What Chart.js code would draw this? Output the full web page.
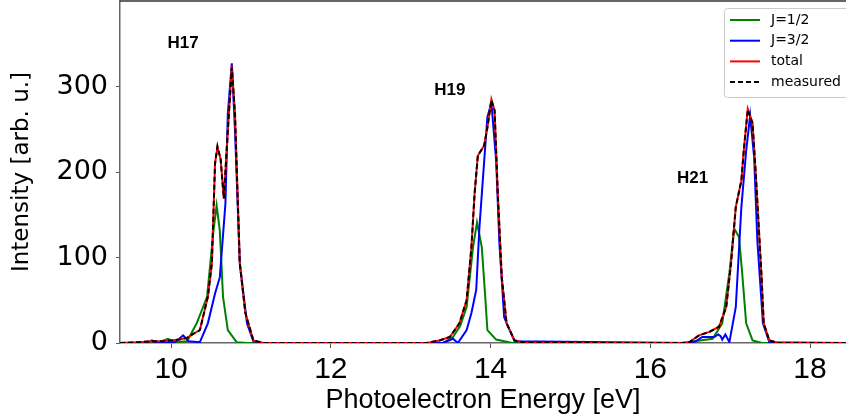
<!DOCTYPE html>
<html lang="en">
<head>
    <meta charset="UTF-8">
    <title>Photoelectron spectrum</title>
    <script src="https://cdn.jsdelivr.net/npm/chart.js"></script>
    <style>
        body { margin: 0; background: #fff; }
    </style>
</head>
<body>
    <canvas id="specChart" width="846" height="419"></canvas>

    <script>
        // J=1/2 component
        const j12E = [9.36, 9.85, 9.96, 10.05, 10.2, 10.32, 10.45, 10.53, 10.57, 10.61, 10.65, 10.71, 10.82, 10.95,
            13.4, 13.53, 13.62, 13.7, 13.78, 13.83, 13.89, 13.93, 13.96, 14.07, 14.27,
            16.4, 16.55, 16.78, 16.9, 16.99, 17.05, 17.11, 17.15, 17.2, 17.28, 17.4, 18.45];
        const j12I = [0, 1, 5, 1, 2, 23, 54, 131, 161, 131, 54, 15, 1, 0,
            0, 7, 20, 42, 112, 141, 112, 58, 15, 4, 0,
            0, 2, 5, 23, 82, 134, 124, 82, 23, 3, 0, 0];

        // J=3/2 component
        const j32E = [9.36, 9.7, 9.76, 9.82, 10.05, 10.15, 10.22, 10.36, 10.46, 10.55, 10.61, 10.68, 10.71, 10.76, 10.8, 10.86, 10.95, 11.03, 11.15,
            13.4, 13.53, 13.59, 13.7, 13.76, 13.82, 13.86, 13.92, 13.96, 14.01, 14.07, 14.11, 14.17, 14.3,
            16.5, 16.57, 16.65, 16.8, 16.85, 16.88, 16.9, 16.94, 16.99, 17.07, 17.14, 17.2, 17.25, 17.3, 17.34, 17.41, 17.49, 18.45];
        const j32I = [0, 0, 3, 0, 1, 9, 2, 1, 23, 58, 77, 163, 268, 327, 248, 93, 23, 2, 0,
            0, 5, 0, 15, 35, 62, 135, 213, 264, 281, 213, 117, 30, 2,
            0, 2, 7, 7, 10, 8, 4, 10, 1, 42, 159, 225, 266, 217, 120, 23, 1, 0];

        // total fit and measured spectrum (same energy grid)
        const totE = [9.36, 9.6, 9.76, 9.9, 10.0, 10.1, 10.2, 10.3, 10.36, 10.46, 10.51, 10.55, 10.58, 10.62, 10.66, 10.71, 10.76, 10.8, 10.86, 10.93, 11.03, 11.15,
            13.2, 13.36, 13.49, 13.61, 13.7, 13.76, 13.8, 13.84, 13.92, 13.96, 14.01, 14.05, 14.09, 14.14, 14.2, 14.3, 14.45,
            16.4, 16.49, 16.61, 16.74, 16.86, 16.95, 17.01, 17.07, 17.14, 17.17, 17.22, 17.28, 17.32, 17.39, 17.42, 17.49, 17.6, 18.45];
        const totI = [0, 1, 2, 2, 3, 4, 6, 12, 15, 54, 93, 210, 229, 215, 169, 248, 324, 268, 93, 35, 3, 0,
            0, 3, 7, 23, 50, 112, 175, 219, 231, 252, 285, 272, 175, 77, 23, 3, 0,
            0, 1, 9, 13, 19, 42, 93, 159, 190, 225, 274, 257, 198, 82, 23, 3, 0, 0];
        const measI = [0, 1, 2, 2, 3, 4, 6, 12, 15, 54, 93, 210, 230, 215, 169, 248, 322, 268, 93, 35, 3, 0,
            0, 3, 7, 23, 50, 112, 175, 219, 231, 252, 284, 272, 175, 77, 23, 3, 0,
            0, 1, 9, 13, 19, 42, 93, 159, 190, 225, 273, 257, 198, 82, 23, 3, 0, 0];

        const xTicks = [10, 12, 14, 16, 18];
        const yTicks = [0, 100, 200, 300];

        const peakLabels = ['H17', 'H19', 'H21'];
        const peakLabelE = [10.15, 13.49, 16.53];
        const peakLabelI = [351, 296, 193];

        function pts(xs, ys) {
            return xs.map((x, i) => ({ x: x, y: ys[i] }));
        }

        // top spine, harmonic labels and legend box
        const extras = {
            id: 'extras',
            afterDraw(chart) {
                const ctx = chart.ctx;
                const area = chart.chartArea;
                const xs = chart.scales.x, ys = chart.scales.y;
                ctx.save();
                ctx.strokeStyle = '#333';
                ctx.lineWidth = 1.5;
                ctx.beginPath();
                ctx.moveTo(area.left, area.top);
                ctx.lineTo(area.right, area.top);
                ctx.stroke();

                ctx.fillStyle = '#000';
                ctx.font = "bold 17px 'Liberation Sans', Arial, sans-serif";
                ctx.textAlign = 'center';
                ctx.textBaseline = 'middle';
                peakLabels.forEach((t, i) => {
                    ctx.fillText(t, xs.getPixelForValue(peakLabelE[i]), ys.getPixelForValue(peakLabelI[i]));
                });

                // legend
                const bx = 724, by = 8, bw = 130, bh = 89;
                ctx.fillStyle = 'rgba(255,255,255,0.85)';
                ctx.strokeStyle = '#ccc';
                ctx.lineWidth = 1;
                ctx.beginPath();
                ctx.roundRect(bx + 0.5, by + 0.5, bw, bh, 3);
                ctx.fill();
                ctx.stroke();
                ctx.font = "14px 'DejaVu Sans', sans-serif";
                ctx.textAlign = 'left';
                chart.data.datasets.forEach((ds, i) => {
                    const y = 20 + i * 20.7;
                    ctx.strokeStyle = ds.borderColor;
                    ctx.lineWidth = 2;
                    ctx.setLineDash(ds.borderDash || []);
                    ctx.beginPath();
                    ctx.moveTo(730, y);
                    ctx.lineTo(760, y);
                    ctx.stroke();
                    ctx.setLineDash([]);
                    ctx.fillStyle = '#000';
                    ctx.fillText(ds.label, 771, y);
                });
                ctx.restore();
            }
        };

        const ctx = document.getElementById('specChart').getContext('2d');
        const chart = new Chart(ctx, {
            type: 'line',
            data: {
                datasets: [
                    { label: 'J=1/2', data: pts(j12E, j12I), borderColor: '#008000', borderWidth: 2, order: 3 },
                    { label: 'J=3/2', data: pts(j32E, j32I), borderColor: '#0000ff', borderWidth: 2, order: 2 },
                    { label: 'total', data: pts(totE, totI), borderColor: '#ff0000', borderWidth: 2, order: 1 },
                    { label: 'measured', data: pts(totE, measI), borderColor: '#000000', borderWidth: 2, borderDash: [5, 3], order: 0 }
                ]
            },
            options: {
                responsive: false,
                animation: false,
                layout: { padding: { top: 1, right: 0, left: 0, bottom: 0 } },
                elements: { point: { radius: 0 }, line: { tension: 0 } },
                plugins: { legend: { display: false }, tooltip: { enabled: false } },
                scales: {
                    x: {
                        type: 'linear',
                        min: 9.36,
                        max: 18.45,
                        afterBuildTicks: (s) => { s.ticks = xTicks.map(v => ({ value: v })); },
                        afterFit: (s) => { s.height = 76; s.paddingLeft = 0; s.paddingRight = 0; },
                        grid: { display: true, drawOnChartArea: false, tickLength: 5, color: '#555' },
                        border: { color: '#666', width: 1.5 },
                        ticks: {
                            color: '#000',
                            padding: 4,
                            maxRotation: 0,
                            font: { family: "'Liberation Sans', Arial, sans-serif", size: 30 }
                        },
                        title: {
                            display: true,
                            text: 'Photoelectron Energy [eV]',
                            color: '#000',
                            padding: { top: 0, bottom: 2 },
                            font: { family: "'Liberation Sans', Arial, sans-serif", size: 27 }
                        }
                    },
                    y: {
                        min: 0,
                        max: 400,
                        afterBuildTicks: (s) => { s.ticks = yTicks.map(v => ({ value: v })); },
                        afterFit: (s) => { s.width = 120; s.paddingTop = 0; s.paddingBottom = 0; },
                        grid: { display: true, drawOnChartArea: false, tickLength: 4, color: '#555' },
                        border: { color: '#666', width: 1.5 },
                        ticks: {
                            color: '#000',
                            padding: 8,
                            font: { family: "'DejaVu Sans', sans-serif", size: 27 }
                        },
                        title: {
                            display: true,
                            text: 'Intensity [arb. u.]',
                            color: '#000',
                            padding: { top: 8, bottom: 0 },
                            font: { family: "'DejaVu Sans', sans-serif", size: 23 }
                        }
                    }
                }
            },
            plugins: [extras]
        });
    </script>
</body>
</html>
